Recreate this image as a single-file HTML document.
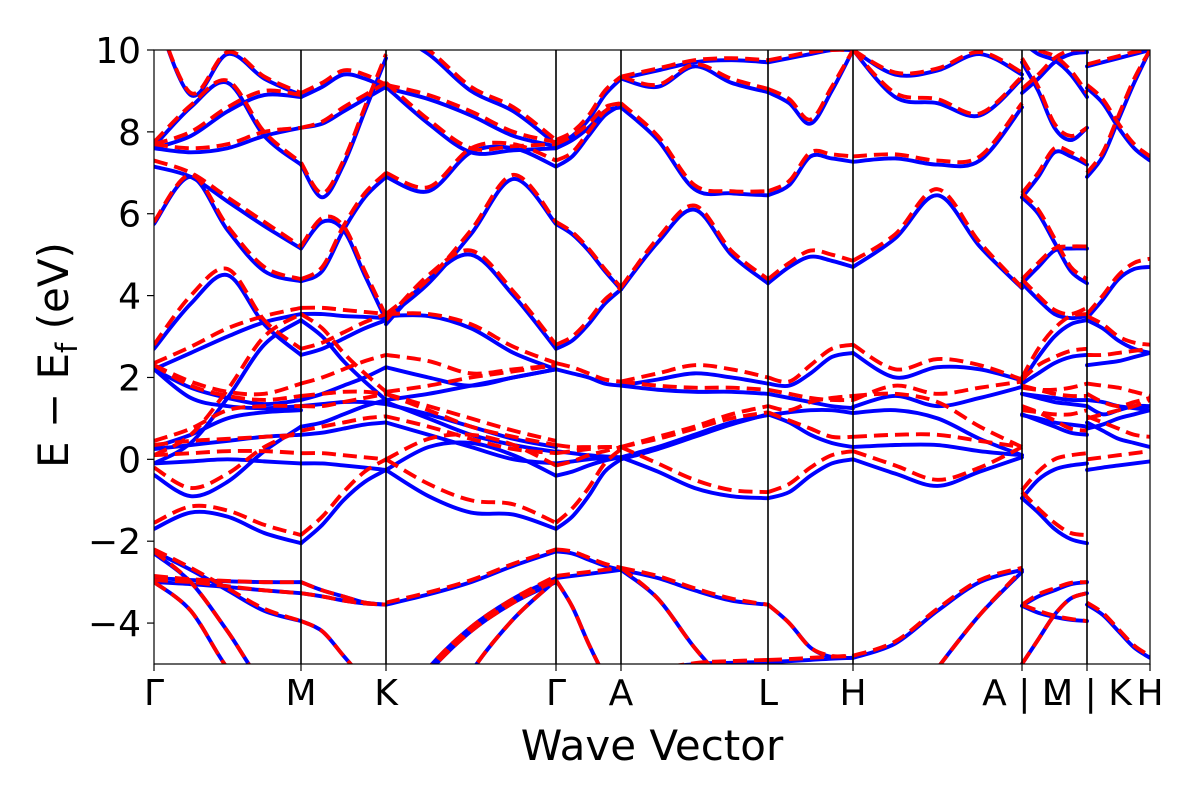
<!DOCTYPE html>
<html>
<head>
<meta charset="utf-8">
<style>
  html, body { margin: 0; padding: 0; background: #fff; }
  svg { display: block; }
  text { font-family: "DejaVu Sans", "Liberation Sans", sans-serif; fill: #000; }
</style>
</head>
<body>
<svg id="chart" width="1200" height="800" viewBox="0 0 1200 800">
  <defs>
    <clipPath id="plotclip"><rect x="154" y="50" width="996" height="614"></rect></clipPath>
  </defs>
  <rect x="0" y="0" width="1200" height="800" fill="#fff"></rect>
  <g id="bands" clip-path="url(#plotclip)"></g>
  <g id="vlines"></g>
  <rect x="154" y="50" width="996" height="614" fill="none" stroke="#000" stroke-width="1.2"></rect>
  <g id="yaxis"></g>
  <g id="xaxis"></g>
  <text x="652" y="760" font-size="42" text-anchor="middle">Wave Vector</text>
  <text transform="translate(68,355) rotate(-90)" font-size="42" text-anchor="middle">E − E<tspan font-size="29" dy="9">f</tspan><tspan dy="-9"> (eV)</tspan></text>
</svg>
<script>
// ---- data ----
const kTicks = [0, 147, 232, 402, 467, 614, 699, 868, 933, 996];
const kLabels = ["Γ", "M", "K", "Γ", "A", "L", "H", "A | L", "M | K", "H"];
const yTicks = [-4, -2, 0, 2, 4, 6, 8, 10];
const yTickLabels = ["−4", "−2", "0", "2", "4", "6", "8", "10"];

const blueSeg0 = [[11,8.9,9.9,9.3,8.9],[7.65,8.6,9.2,7.9,7.2],[7.6,7.9,8.5,8.9,8.85],[7.6,7.5,7.6,7.9,8.1],[7.15,6.9,6.3,5.7,5.15],[5.75,6.9,5.6,4.6,4.35],[2.7,3.8,4.5,3.3,2.55],[2.2,2.6,3.0,3.35,3.55],[2.2,1.75,1.5,1.35,1.45],[2.2,1.5,1.3,1.25,1.3],[0.3,0.6,1.0,1.15,1.2],[-0.1,0.4,1.5,2.8,3.4],[0.25,0.35,0.45,0.55,0.6],[-0.1,-0.05,0.0,-0.05,-0.1],[-0.38,-0.9,-0.55,0.2,0.8],[-1.7,-1.3,-1.4,-1.8,-2.05],[-2.25,-2.7,-3.2,-3.7,-3.95],[-2.9,-2.95,-2.98,-3.0,-3.0],[-3.0,-3.05,-3.12,-3.2,-3.27],[-3.0,-3.7,-5.1,-6,-6.5],[-2.3,-3.0,-4.2,-5.5,-6]];
const redSeg0 = [[11,8.95,9.95,9.35,8.95],[7.75,8.65,9.25,8.0,7.25],[7.7,8.0,8.6,9.0,8.9],[7.7,7.6,7.7,8.0,8.1],[7.3,7.0,6.4,5.8,5.2],[5.8,6.95,5.7,4.7,4.4],[2.8,4.0,4.65,3.4,2.7],[2.35,2.75,3.2,3.5,3.7],[2.3,1.9,1.65,1.6,1.85],[2.3,1.8,1.55,1.45,1.55],[0.45,0.75,1.2,1.3,1.3],[0.1,0.6,1.7,3.0,3.55],[0.35,0.45,0.5,0.55,0.6],[0.1,0.15,0.2,0.2,0.15],[-0.2,-0.7,-0.35,0.3,0.7],[-1.55,-1.15,-1.25,-1.6,-1.85],[-2.2,-2.65,-3.15,-3.65,-3.95],[-2.85,-2.93,-2.97,-3.0,-3.0],[-2.95,-3.0,-3.1,-3.2,-3.27],[-3.0,-3.7,-5.1,-6,-6.5],[-2.25,-3.0,-4.2,-5.5,-6]];

const blueSeg1 = [[8.85,9.1,9.4,9.3,9.07],[8.1,8.2,8.5,8.8,9.1],[7.2,6.4,7.2,8.5,9.8],[5.15,5.8,5.6,4.5,3.4],[4.35,4.6,5.6,6.4,6.9],[3.55,3.55,3.5,3.48,3.45],[2.55,2.7,2.95,3.2,3.4],[3.4,3.0,2.4,1.9,1.45],[1.45,1.6,1.8,2.0,2.25],[1.3,1.35,1.4,1.4,1.35],[0.8,0.9,1.1,1.3,1.45],[0.6,0.65,0.75,0.85,0.9],[-0.1,-0.1,-0.15,-0.2,-0.26],[-2.05,-1.6,-1.0,-0.55,-0.26],[-3.0,-3.2,-3.35,-3.5,-3.55],[-3.27,-3.35,-3.45,-3.52,-3.55],[-3.95,-4.2,-4.8,-5.4,-6]];
const redSeg1 = [[8.95,9.2,9.5,9.4,9.15],[8.1,8.25,8.6,8.9,9.2],[7.25,6.5,7.3,8.6,9.9],[5.2,5.9,5.7,4.6,3.5],[4.4,4.7,5.7,6.5,7.0],[3.7,3.7,3.65,3.6,3.55],[2.7,2.85,3.1,3.35,3.55],[3.55,3.2,2.6,2.1,1.65],[1.85,2.0,2.2,2.4,2.55],[1.55,1.6,1.65,1.65,1.6],[1.3,1.3,1.4,1.5,1.6],[0.7,0.8,0.9,1.0,1.05],[0.15,0.15,0.1,0.05,0.0],[-1.85,-1.4,-0.8,-0.3,0.0],[-3.0,-3.2,-3.35,-3.5,-3.55],[-3.27,-3.35,-3.45,-3.52,-3.55],[-3.95,-4.2,-4.8,-5.4,-6]];

const blueSeg2 = [[9.07,8.8,8.4,7.9,7.65],[9.1,8.2,7.5,7.55,7.6],[10.5,9.9,9.0,8.5,7.7],[6.9,6.55,7.5,7.6,7.15],[3.45,4.3,5.5,6.85,5.75],[3.3,4.4,5.0,4.0,2.7],[3.5,3.5,3.2,2.6,2.2],[2.25,2.0,1.8,2.0,2.2],[1.45,1.6,1.8,2.0,2.2],[1.35,1.1,0.8,0.5,0.3],[0.9,0.6,0.3,0.0,-0.1],[1.4,1.0,0.6,0.35,0.18],[-0.26,-0.9,-1.3,-1.35,-1.7],[-0.26,0.3,0.4,0.1,-0.4],[-3.55,-3.3,-3.0,-2.6,-2.25],[-6.5,-5.1,-4.1,-3.4,-2.9],[-6.5,-5.2,-4.2,-3.5,-3.0],[-9,-7,-5.2,-3.9,-2.95]];
const redSeg2 = [[9.15,8.9,8.5,8.0,7.75],[9.2,8.3,7.6,7.65,7.7],[10.6,10.0,9.1,8.6,7.8],[7.0,6.65,7.6,7.7,7.3],[3.55,4.4,5.6,6.95,5.8],[3.4,4.5,5.1,4.1,2.8],[3.55,3.55,3.3,2.75,2.35],[2.55,2.4,2.1,2.2,2.3],[1.65,1.8,2.0,2.15,2.3],[1.6,1.3,1.0,0.7,0.45],[1.05,0.8,0.5,0.25,0.15],[1.6,1.2,0.8,0.55,0.35],[0.0,-0.6,-1.0,-1.1,-1.55],[0.0,0.5,0.6,0.35,-0.15],[-3.5,-3.25,-2.95,-2.55,-2.2],[-6.5,-5.1,-4.1,-3.4,-2.85],[-6.5,-5.2,-4.2,-3.5,-2.95],[-9,-7,-5.2,-3.9,-2.95]];

const blueSeg3 = [[7.7,7.9,8.3,8.9,9.3],[7.6,7.8,8.1,8.5,8.6],[7.15,7.4,7.9,8.4,8.65],[5.75,5.5,5.1,4.6,4.15],[2.7,2.9,3.3,3.8,4.15],[2.2,2.1,2.0,1.85,1.8],[0.2,0.15,0.1,0.07,0.05],[-0.1,-0.05,0.0,0.03,0.05],[-0.4,-0.3,-0.15,-0.03,0.05],[-1.7,-1.4,-0.9,-0.3,0.0],[-2.25,-2.3,-2.45,-2.6,-2.7],[-2.9,-2.85,-2.8,-2.75,-2.7],[-2.95,-3.6,-4.5,-5.3,-6]];
const redSeg3 = [[7.8,8.0,8.4,9.0,9.35],[7.7,7.9,8.2,8.6,8.7],[7.3,7.5,8.0,8.5,8.7],[5.8,5.55,5.15,4.65,4.2],[2.8,3.0,3.4,3.9,4.2],[2.35,2.25,2.1,1.95,1.9],[0.35,0.3,0.3,0.3,0.3],[0.15,0.2,0.25,0.3,0.3],[-0.15,-0.05,0.1,0.2,0.3],[-1.55,-1.2,-0.7,-0.1,0.25],[-2.2,-2.25,-2.4,-2.55,-2.65],[-2.85,-2.8,-2.75,-2.7,-2.65],[-2.95,-3.6,-4.5,-5.3,-6]];

const blueSeg4 = [[9.3,9.5,9.7,9.75,9.7],[9.3,9.1,9.6,9.2,8.97],[8.6,7.8,6.6,6.5,6.45],[4.15,5.3,6.1,5.0,4.3],[1.8,1.95,2.1,2.0,1.85],[1.8,1.7,1.65,1.65,1.6],[0.05,0.3,0.6,0.9,1.08],[0.0,0.25,0.55,0.85,1.1],[0.05,-0.3,-0.7,-0.9,-0.95],[-2.7,-2.9,-3.2,-3.45,-3.55],[-2.7,-3.4,-4.6,-5.6,-6.5],[-6,-5.2,-5.0,-4.97,-4.95]];
const redSeg4 = [[9.35,9.55,9.75,9.8,9.75],[9.35,9.15,9.65,9.3,9.05],[8.7,7.9,6.7,6.55,6.55],[4.2,5.4,6.2,5.1,4.4],[1.9,2.1,2.3,2.2,2.0],[1.9,1.8,1.75,1.75,1.7],[0.3,0.55,0.8,1.1,1.3],[0.3,0.5,0.75,1.0,1.15],[0.3,-0.1,-0.5,-0.75,-0.8],[-2.65,-2.85,-3.15,-3.4,-3.55],[-2.65,-3.4,-4.6,-5.6,-6.5],[-6,-5.2,-4.98,-4.93,-4.9]];

const blueSeg5 = [[9.7,9.8,9.9,10,10],[8.97,8.7,8.2,9.0,10],[6.45,6.7,7.4,7.35,7.27],[4.3,4.7,4.95,4.85,4.7],[1.85,1.8,2.1,2.5,2.6],[1.6,1.5,1.4,1.3,1.25],[1.08,1.15,1.2,1.2,1.13],[1.1,0.9,0.6,0.4,0.3],[-0.95,-0.8,-0.4,-0.1,0.0],[-3.55,-4.0,-4.6,-4.83,-4.85],[-4.95,-4.93,-4.9,-4.87,-4.85]];
const redSeg5 = [[9.75,9.85,9.95,10,10],[9.05,8.8,8.3,9.1,10],[6.55,6.8,7.5,7.45,7.4],[4.4,4.8,5.1,5.0,4.85],[2.0,1.9,2.3,2.7,2.8],[1.7,1.6,1.5,1.45,1.45],[1.3,1.2,1.4,1.5,1.55],[1.15,0.95,0.75,0.55,0.55],[-0.8,-0.6,-0.2,0.1,0.2],[-3.55,-4.0,-4.6,-4.8,-4.8],[-4.9,-4.88,-4.85,-4.82,-4.8]];

const blueSeg6 = [[10,9.4,9.5,9.9,9.4],[10,8.85,8.7,8.4,9.3],[7.27,7.35,7.2,7.3,8.6],[4.7,5.4,6.45,5.2,4.18],[2.6,2.0,2.25,2.2,1.93],[1.28,1.55,1.3,1.5,1.77],[1.13,1.2,1.0,0.5,0.1],[0.3,0.35,0.35,0.2,0.1],[0.0,-0.35,-0.65,-0.3,0.05],[-4.85,-4.5,-3.7,-3.0,-2.7],[-8,-6.5,-5.1,-3.8,-2.75]];
const redSeg6 = [[10,9.45,9.55,9.95,9.45],[10,8.95,8.8,8.45,9.35],[7.4,7.45,7.3,7.4,8.7],[4.85,5.5,6.6,5.3,4.2],[2.8,2.2,2.45,2.3,1.95],[1.45,1.8,1.6,1.75,1.9],[1.55,1.6,1.4,0.8,0.3],[0.55,0.6,0.6,0.45,0.3],[0.2,-0.15,-0.5,-0.2,0.3],[-4.8,-4.45,-3.65,-2.95,-2.65],[-8,-6.5,-5.1,-3.8,-2.7]];

const blueSeg7 = [[10.2,9.9,9.75,9.4,8.85],[9.7,9.0,8.1,7.8,8.1],[8.95,9.3,9.7,9.9,9.95],[6.4,6.9,7.5,7.4,7.2],[6.4,6.0,5.3,4.6,4.3],[4.3,4.7,5.1,5.15,5.15],[4.3,3.9,3.55,3.45,3.5],[1.9,2.5,3.0,3.3,3.4],[1.85,2.1,2.35,2.5,2.55],[1.6,1.55,1.5,1.45,1.45],[1.6,1.5,1.4,1.35,1.3],[1.08,1.0,0.9,0.85,0.8],[1.1,0.95,0.8,0.65,0.6],[-0.95,-0.5,-0.25,-0.15,-0.1],[-0.95,-1.3,-1.7,-1.95,-2.05],[-3.58,-3.35,-3.2,-3.05,-3.0],[-3.58,-3.75,-3.85,-3.92,-3.95],[-5,-4.4,-3.8,-3.4,-3.27]];
const redSeg7 = [[10.3,10.0,9.85,9.5,8.95],[9.8,9.1,8.2,7.9,8.1],[9.05,9.4,9.8,10.0,10.0],[6.5,7.0,7.6,7.5,7.25],[6.5,6.1,5.4,4.7,4.4],[4.4,4.8,5.15,5.2,5.2],[4.4,4.0,3.65,3.55,3.7],[2.0,2.7,3.2,3.5,3.55],[1.95,2.3,2.5,2.65,2.7],[1.75,1.7,1.7,1.75,1.85],[1.8,1.7,1.6,1.55,1.55],[1.2,1.15,1.1,1.1,1.2],[1.3,1.15,0.95,0.75,0.7],[-0.75,-0.3,0.0,0.1,0.15],[-0.8,-1.2,-1.55,-1.8,-1.85],[-3.55,-3.3,-3.15,-3.02,-3.0],[-3.55,-3.7,-3.82,-3.9,-3.95],[-5,-4.4,-3.8,-3.4,-3.27]];

const blueSeg8 = [[9.6,9.7,9.8,9.9,10],[9.07,8.7,8.1,7.6,7.3],[6.9,7.4,8.3,9.2,10],[3.45,3.9,4.4,4.65,4.7],[3.4,3.2,2.9,2.7,2.6],[2.3,2.35,2.4,2.5,2.6],[1.45,1.4,1.3,1.25,1.2],[1.3,1.1,1.2,1.3,1.3],[0.9,0.7,0.5,0.4,0.3],[0.75,0.85,1.0,1.1,1.2],[-0.26,-0.2,-0.15,-0.1,-0.05],[-3.55,-3.8,-4.2,-4.6,-4.85]];
const redSeg8 = [[9.65,9.75,9.85,9.95,10],[9.15,8.8,8.2,7.7,7.4],[7.0,7.5,8.4,9.3,10],[3.55,4.0,4.5,4.8,4.9],[3.5,3.3,3.0,2.85,2.8],[2.55,2.55,2.6,2.65,2.7],[1.85,1.8,1.75,1.65,1.55],[1.6,1.4,1.3,1.4,1.5],[1.05,0.9,0.75,0.6,0.55],[1.0,1.1,1.2,1.3,1.45],[0.0,0.05,0.1,0.15,0.2],[-3.5,-3.75,-4.15,-4.55,-4.8]];

const blueSegs = [blueSeg0, blueSeg1, blueSeg2, blueSeg3, blueSeg4, blueSeg5, blueSeg6, blueSeg7, blueSeg8];
const redSegs = [redSeg0, redSeg1, redSeg2, redSeg3, redSeg4, redSeg5, redSeg6, redSeg7, redSeg8];

// ---- axes ----
const X0 = 154, X1 = 1150, Y0 = 50, Y1 = 664;
const kMax = kTicks[kTicks.length - 1];
const yMin = -5, yMax = 10;
function xScale(k) { return X0 + (k / kMax) * (X1 - X0); }
function yScale(e) { return Y1 - (e - yMin) / (yMax - yMin) * (Y1 - Y0); }

const NS = "http://www.w3.org/2000/svg";
function mk(tag, attrs) {
  const el = document.createElementNS(NS, tag);
  for (const a in attrs) el.setAttribute(a, attrs[a]);
  return el;
}

function smoothPath(pts) {
  let d = "M" + pts[0][0].toFixed(2) + "," + pts[0][1].toFixed(2);
  for (let i = 0; i < pts.length - 1; i++) {
    const p0 = pts[Math.max(0, i - 1)], p1 = pts[i], p2 = pts[i + 1], p3 = pts[Math.min(pts.length - 1, i + 2)];
    const c1x = p1[0] + (p2[0] - p0[0]) / 6, c1y = p1[1] + (p2[1] - p0[1]) / 6;
    const c2x = p2[0] - (p3[0] - p1[0]) / 6, c2y = p2[1] - (p3[1] - p1[1]) / 6;
    d += " C" + c1x.toFixed(2) + "," + c1y.toFixed(2) + " " + c2x.toFixed(2) + "," + c2y.toFixed(2) + " " + p2[0].toFixed(2) + "," + p2[1].toFixed(2);
  }
  return d;
}

const bandsG = document.getElementById("bands");
function drawSet(segs, color, dashed, name) {
  segs.forEach((seg, s) => {
    const kA = kTicks[s], kB = kTicks[s + 1];
    seg.forEach((vals, b) => {
      const pts = vals.map((e, i) => [xScale(kA + (kB - kA) * i / (vals.length - 1)), yScale(e)]);
      const p = mk("path", { d: smoothPath(pts), fill: "none", stroke: color, "stroke-width": 3.9, "stroke-linecap": dashed ? "butt" : "round" });
      if (dashed) p.setAttribute("stroke-dasharray", "14,7");
      
      
      bandsG.appendChild(p);
    });
  });
}
drawSet(blueSegs, "#0000ff", false, "spin-down");
drawSet(redSegs, "#ff0000", true, "spin-up");

// vertical lines + x ticks
const vG = document.getElementById("vlines");
const xG = document.getElementById("xaxis");
kTicks.forEach((k, i) => {
  const x = xScale(k);
  if (i > 0 && i < kTicks.length - 1) {
    const l = mk("line", { x1: x, y1: Y0, x2: x, y2: Y1, stroke: "#000", "stroke-width": 1.6 });
    
    
    vG.appendChild(l);
  }
  const t = mk("line", { x1: x, y1: Y1, x2: x, y2: Y1 + 7, stroke: "#000", "stroke-width": 1.2 });
  
  
  xG.appendChild(t);
  const lab = mk("text", { x: x, y: 705, "font-size": 36, "text-anchor": "middle" });
  lab.textContent = kLabels[i];
  
  
  xG.appendChild(lab);
});

// y ticks
const yG = document.getElementById("yaxis");
yTicks.forEach((v, i) => {
  const y = yScale(v);
  const t = mk("line", { x1: X0 - 7, y1: y, x2: X0, y2: y, stroke: "#000", "stroke-width": 1.2 });
  
  
  yG.appendChild(t);
  const lab = mk("text", { x: 141, y: y + 13, "font-size": 36, "text-anchor": "end" });
  lab.textContent = yTickLabels[i];
  
  
  yG.appendChild(lab);
});
</script>
</body>
</html>
